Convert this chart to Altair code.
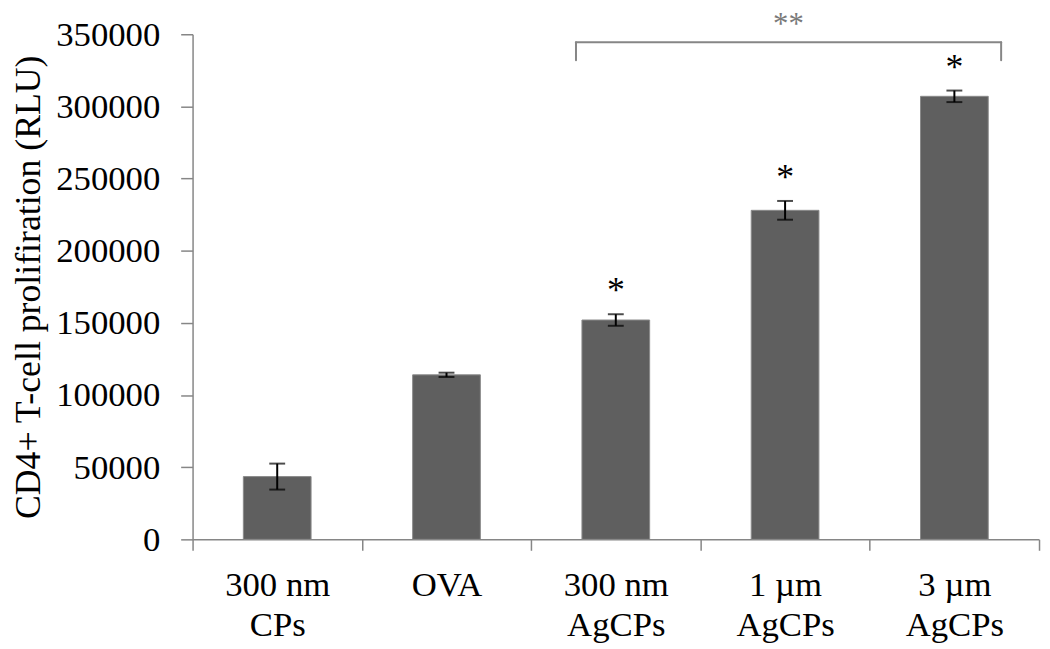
import altair as alt
import pandas as pd

# ---- data ----
categories = ["300 nm|CPs", "OVA", "300 nm|AgCPs", "1 µm|AgCPs", "3 µm|AgCPs"]
means = [43500, 114000, 152000, 228000, 307000]
errors = [9000, 1500, 4000, 6500, 4000]
stars = ["", "", "*", "*", "*"]

y_ticks = [0, 50000, 100000, 150000, 200000, 250000, 300000, 350000]
y_title = "CD4+ T-cell prolifiration (RLU)"

bracket_start = "300 nm|AgCPs"
bracket_end = "3 µm|AgCPs"
bracket_mid = "1 µm|AgCPs"
bracket_top = 344500
bracket_foot = 332000
bracket_label = "**"

df = pd.DataFrame({"cat": categories, "mean": means, "err": errors, "star": stars})
df["lo"] = df["mean"] - df["err"]
df["hi"] = df["mean"] + df["err"]

FONT = "Liberation Serif"
GRAY = "#868686"

xscale = alt.Scale(domain=categories, paddingInner=0.6, paddingOuter=0.3)
xscale_axis = alt.Scale(domain=categories, paddingInner=0, paddingOuter=0)
yscale = alt.Scale(domain=[0, 350000], nice=False, zero=True)


def xenc(field, **kw):
    return alt.X(field, type="nominal", scale=xscale, sort=categories, axis=None, **kw)


y_enc = alt.Y(
    "mean:Q",
    scale=yscale,
    axis=alt.Axis(
        title=y_title,
        values=y_ticks,
        format="d",
        tickSize=12,
        labelPadding=21,
        labelFontSize=35,
        titleFont=FONT,
        titleFontSize=36,
        titleFontWeight="normal",
        titleColor="black",
        titleX=-154,
        titleBaseline="alphabetic",
    ),
)

base = alt.Chart(df)

bars = base.mark_bar(color="#5f5f5f", stroke="#8a8a8a", strokeWidth=1).encode(
    x=xenc("cat"), y=y_enc
)

err_rule = base.mark_rule(color="black", strokeWidth=2).encode(
    x=xenc("cat"),
    y=alt.Y("lo:Q", scale=yscale),
    y2="hi:Q",
)
cap_hi = base.mark_tick(color="black", thickness=2, size=16).encode(
    x=xenc("cat"),
    y=alt.Y("hi:Q", scale=yscale),
)
cap_lo = base.mark_tick(color="black", thickness=2, size=16).encode(
    x=xenc("cat"),
    y=alt.Y("lo:Q", scale=yscale),
)

star_text = base.mark_text(
    font=FONT, fontSize=36, baseline="alphabetic", align="center", dy=-12, color="black"
).encode(
    x=xenc("cat"),
    y=alt.Y("hi:Q", scale=yscale),
    text="star:N",
)

bdf = pd.DataFrame(
    {
        "start": [bracket_start],
        "end": [bracket_end],
        "mid": [bracket_mid],
        "top": [bracket_top],
        "foot": [bracket_foot],
        "label": [bracket_label],
    }
)
bbase = alt.Chart(bdf)
br_h = bbase.mark_rule(color=GRAY, strokeWidth=2, strokeCap="round", xOffset=-6, x2Offset=13).encode(
    x=xenc("start", bandPosition=0),
    x2=alt.X2("end:N", bandPosition=1),
    y=alt.Y("top:Q", scale=yscale),
)
br_l = bbase.mark_rule(color=GRAY, strokeWidth=2, strokeCap="round", xOffset=-6).encode(
    x=xenc("start", bandPosition=0),
    y=alt.Y("top:Q", scale=yscale),
    y2="foot:Q",
)
br_r = bbase.mark_rule(color=GRAY, strokeWidth=2, strokeCap="round", xOffset=13).encode(
    x=xenc("end", bandPosition=1),
    y=alt.Y("top:Q", scale=yscale),
    y2="foot:Q",
)
br_t = bbase.mark_text(
    font=FONT, fontSize=31, baseline="alphabetic", align="center", dy=-8, color="#7a7a7a"
).encode(
    x=xenc("mid", bandPosition=0.55),
    y=alt.Y("top:Q", scale=yscale),
    text="label:N",
)

# layer that only carries the category axis (ticks at the category boundaries)
axis_layer = base.mark_text(text="", opacity=0).encode(
    x=alt.X(
        "cat:N",
        scale=xscale_axis,
        sort=categories,
        axis=alt.Axis(
            title=None,
            labelExpr="isValid(datum.value) ? split(datum.value, '|') : ''",
            labelAngle=0,
            labelAlign="center",
            labelBaseline="top",
            labelPadding=18,
            labelLineHeight=40,
            labelFontSize=35,
            tickSize=11,
            tickBand="extent",
        ),
    ),
    y=alt.Y("mean:Q", scale=yscale),
)

main = alt.layer(bars, err_rule, cap_hi, cap_lo, star_text, br_h, br_l, br_r, br_t)

chart = (
    alt.layer(main, axis_layer)
    .resolve_scale(x="independent")
    .properties(
        width=853,
        height=509,
        autosize=alt.AutoSizeParams(type="none"),
        padding={"left": 186, "top": 24, "right": 3, "bottom": 107},
    )
    .configure_view(stroke=None)
    .configure_axis(
        grid=False,
        domainColor=GRAY,
        domainWidth=1.5,
        tickColor=GRAY,
        tickWidth=1.5,
        labelFont=FONT,
        labelColor="black",
    )
)

chart.save("out.html", embed_options={"renderer": "svg", "actions": False})
